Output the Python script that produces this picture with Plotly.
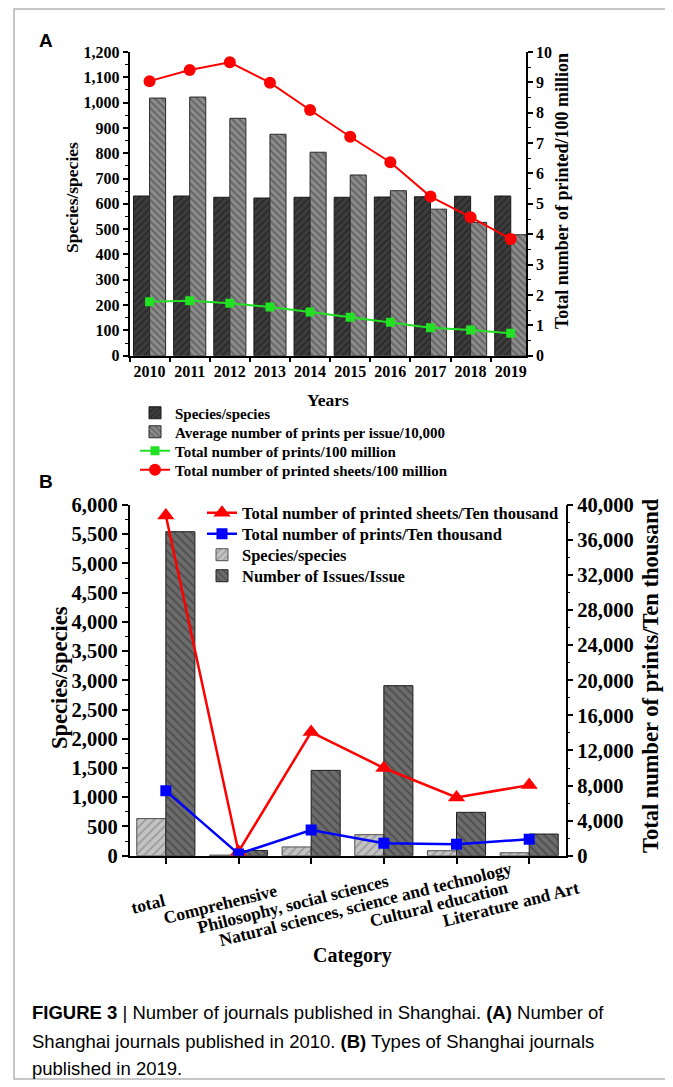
import plotly.graph_objects as go

W, H = 673, 1087
OFF = 8  # page body margin in the browser

# ---------------- Data: panel A ----------------
years = ["2010", "2011", "2012", "2013", "2014", "2015", "2016", "2017", "2018", "2019"]
species_a = [631, 631, 626, 623, 626, 626, 627, 628, 630, 631]
avg_prints_per_issue = [1018, 1022, 938, 875, 804, 714, 652, 579, 527, 478]
total_prints_100m = [1.78, 1.81, 1.73, 1.60, 1.44, 1.27, 1.10, 0.92, 0.85, 0.74]
total_sheets_100m = [9.04, 9.41, 9.66, 8.99, 8.09, 7.21, 6.37, 5.24, 4.56, 3.84]

# ---------------- Data: panel B ----------------
categories = ["total", "Comprehensive", "Philosophy, social sciences",
              "Natural sciences, science and technology", "Cultural education",
              "Literature and Art"]
species_b = [635, 10, 150, 360, 85, 50]
issues_b = [5543, 90, 1460, 2909, 742, 371]
sheets_b = [38800, 450, 14100, 10000, 6650, 8050]
prints_b = [7400, 200, 2930, 1410, 1300, 1870]

left_ticks_a = list(range(0, 1201, 100))
right_ticks_a = list(range(0, 11))
left_ticks_b = list(range(0, 6001, 500))
right_ticks_b = list(range(0, 40001, 4000))

SERIF = "Liberation Serif"


def px(x):
    return (x - OFF) / W


def py(y):
    return 1 - (y - OFF) / H


fig = go.Figure()

# ---- Panel A traces ----
fig.add_trace(go.Bar(
    x=years, y=species_a, name="Species/species", xaxis="x", yaxis="y",
    marker=dict(color="#3d3d3d", line=dict(color="#1a1a1a", width=1),
                pattern=dict(shape="/", fgcolor="#161616", size=5, solidity=0.35)),
    legend="legend",
))
fig.add_trace(go.Bar(
    x=years, y=avg_prints_per_issue, name="Average number of prints per issue/10,000",
    xaxis="x", yaxis="y",
    marker=dict(color="#8c8c8c", line=dict(color="#2a2a2a", width=1),
                pattern=dict(shape="\\", fgcolor="#3a3a3a", size=5, solidity=0.35)),
    legend="legend3",
))
fig.add_trace(go.Scatter(
    x=years, y=total_prints_100m, name="Total number of prints/100 million",
    xaxis="x", yaxis="y2", mode="lines+markers",
    line=dict(color="#22e022", width=2),
    marker=dict(symbol="square", size=9, color="#22e022"),
    legend="legend4",
))
fig.add_trace(go.Scatter(
    x=years, y=total_sheets_100m, name="Total number of printed sheets/100 million",
    xaxis="x", yaxis="y2", mode="lines+markers",
    line=dict(color="#ff0000", width=2),
    marker=dict(symbol="circle", size=12, color="#ff0000"),
    legend="legend5",
))

# ---- Panel B traces ----
fig.add_trace(go.Scatter(
    x=categories, y=sheets_b, name="Total number of printed sheets/Ten thousand",
    xaxis="x2", yaxis="y4", mode="lines+markers",
    line=dict(color="#ff0000", width=2.5),
    marker=dict(symbol="triangle-up", size=15, color="#ff0000"),
    legend="legend2",
))
fig.add_trace(go.Scatter(
    x=categories, y=prints_b, name="Total number of prints/Ten thousand",
    xaxis="x2", yaxis="y4", mode="lines+markers",
    line=dict(color="#0000ff", width=2.5),
    marker=dict(symbol="square", size=11, color="#0000ff"),
    legend="legend6",
))
fig.add_trace(go.Bar(
    x=categories, y=species_b, name="Species/species", xaxis="x2", yaxis="y3",
    marker=dict(color="#c4c4c4", line=dict(color="#505050", width=1),
                pattern=dict(shape="/", fgcolor="#707070", size=6, solidity=0.3)),
    legend="legend7",
))
fig.add_trace(go.Bar(
    x=categories, y=issues_b, name="Number of Issues/Issue", xaxis="x2", yaxis="y3",
    marker=dict(color="#6c6c6c", line=dict(color="#1e1e1e", width=1),
                pattern=dict(shape="\\", fgcolor="#2c2c2c", size=6, solidity=0.3)),
    legend="legend8",
))

tickfont_a = dict(family=SERIF, size=16, color="black", weight="bold")
tickfont_b = dict(family=SERIF, size=20.5, color="black", weight="bold")

axis_common = dict(showgrid=False, zeroline=False, showline=True, linecolor="black",
                   linewidth=1.5, ticks="outside", tickcolor="black", tickwidth=1.5,
                   fixedrange=True, automargin=False)

A_X = [px(129.5), px(526)]
A_Y = [py(355.7), py(52)]
B_X = [px(129.5), px(565.5)]
B_Y = [py(855.7), py(505)]


def one_legend(x, y, size):
    return dict(x=px(x), y=py(y), xanchor="left", yanchor="middle",
                font=dict(family=SERIF, size=size, color="black", weight="bold"),
                bgcolor="rgba(0,0,0,0)", borderwidth=0, itemwidth=30)


fig.update_layout(
    width=W, height=H,
    margin=dict(l=0, r=0, t=0, b=0, pad=0, autoexpand=False),
    paper_bgcolor="white", plot_bgcolor="white",
    barmode="group", bargap=0.2, bargroupgap=0,
    font=dict(family=SERIF, color="black"),
    xaxis=dict(domain=A_X, anchor="y", type="category", range=[-0.5, 9.38],
               tickfont=tickfont_a, ticklen=5, tickson="boundaries", tickangle=0,
               **axis_common),
    yaxis=dict(domain=A_Y, anchor="x", range=[0, 1200], tickvals=left_ticks_a,
               tickformat=",d", tickfont=tickfont_a, ticklen=5,
               minor=dict(dtick=50, ticks="outside", ticklen=3, tickcolor="black",
                          tickwidth=1.2, showgrid=False),
               **axis_common),
    yaxis2=dict(domain=A_Y, anchor="x", overlaying="y", side="right", range=[0, 10],
                tickvals=right_ticks_a, tickfont=tickfont_a, ticklen=5,
                minor=dict(dtick=0.5, ticks="outside", ticklen=3, tickcolor="black",
                           tickwidth=1.2, showgrid=False),
                **axis_common),
    xaxis2=dict(domain=B_X, anchor="y3", type="category", range=[-0.5, 5.5],
                showticklabels=False, ticklen=7,
                **axis_common),
    yaxis3=dict(domain=B_Y, anchor="x2", range=[0, 6000], tickvals=left_ticks_b,
                tickformat=",d", tickfont=tickfont_b, ticklen=6,
                minor=dict(dtick=250, ticks="outside", ticklen=3, tickcolor="black",
                           tickwidth=1.2, showgrid=False),
                **axis_common),
    yaxis4=dict(domain=B_Y, anchor="x2", overlaying="y3", side="right", range=[0, 40000],
                tickvals=right_ticks_b, tickformat=",d", tickfont=tickfont_b, ticklen=6,
                minor=dict(dtick=2000, ticks="outside", ticklen=3, tickcolor="black",
                           tickwidth=1.2, showgrid=False),
                **axis_common),
    # panel A legend rows
    legend=one_legend(135, 413, 15),
    legend3=one_legend(135, 432, 15),
    legend4=one_legend(135, 451, 15),
    legend5=one_legend(135, 470, 15),
    # panel B legend rows
    legend2=one_legend(202, 513, 16.5),
    legend6=one_legend(202, 534, 16.5),
    legend7=one_legend(202, 555, 16.5),
    legend8=one_legend(202, 576, 16.5),
    showlegend=True,
)

annotations = []


def ann(text, x, y, size, angle=0, family=SERIF, bold=True, xanchor="center", **kw):
    annotations.append(dict(
        text=text, x=px(x), y=py(y), xref="paper", yref="paper", showarrow=False,
        textangle=angle, xanchor=xanchor, yanchor="middle",
        font=dict(family=family, size=size, color="black",
                  weight="bold" if bold else "normal"), **kw))


# Panel labels
ann("A", 46, 40, 19, family="Liberation Sans")
ann("B", 46, 481, 19, family="Liberation Sans")

# Axis titles panel A
ann("Species/species", 72, 198, 17.5, angle=-90)
ann("Total number of printed/100 million", 562, 191, 18, angle=-90)
ann("Years", 328, 400, 17.5)

# Axis titles panel B
ann("Species/species", 59, 677, 22.5, angle=-90)
ann("Total number of prints/Ten thousand", 650, 676, 22.5, angle=-90)
ann("Category", 352, 956, 20)

# Category tick labels (rotated about their centres)
for c in categories:
    annotations.append(dict(
        text=c, x=c, xref="x2", y=py(904), yref="paper", showarrow=False,
        textangle=-14, xanchor="center", yanchor="middle", xshift=-18,
        font=dict(family=SERIF, size=17.5, color="black", weight="bold")))

# Caption
CAP = "Liberation Sans Narrow, Liberation Sans"
ann("<b>FIGURE 3</b> | Number of journals published in Shanghai. <b>(A)</b> Number of",
    30, 1012, 18.5, family=CAP, bold=False, xanchor="left")
ann("Shanghai journals published in 2010. <b>(B)</b> Types of Shanghai journals",
    30, 1041, 18.5, family=CAP, bold=False, xanchor="left")
ann("published in 2019.", 30, 1068, 18.5, family=CAP, bold=False, xanchor="left")

fig.update_layout(annotations=annotations)

# Figure frame
fig.add_shape(type="rect", xref="paper", yref="paper",
              x0=px(14), x1=px(670.5), y0=py(1079), y1=py(9),
              line=dict(color="#b4b4b4", width=1.5), fillcolor="rgba(0,0,0,0)",
              layer="below")

fig.write_html("out.html")
